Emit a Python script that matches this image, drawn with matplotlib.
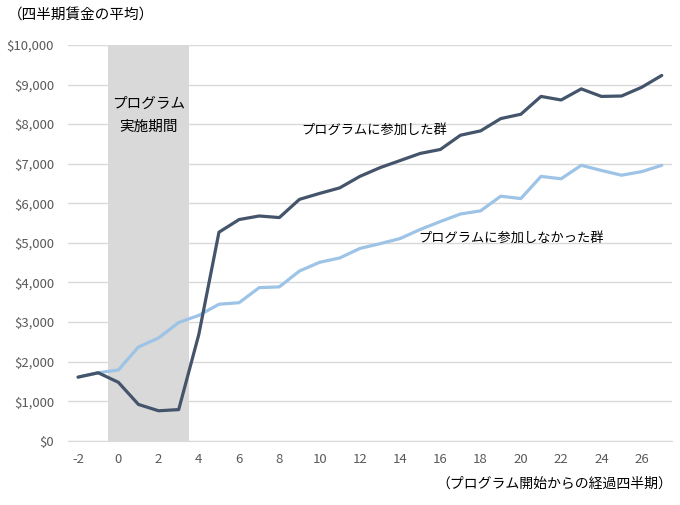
import matplotlib
matplotlib.use("Agg")
import matplotlib.pyplot as plt
from matplotlib.ticker import FuncFormatter

plt.rcParams['font.family'] = ['Noto Sans CJK JP', 'DejaVu Sans']

quarters = list(range(-2, 28))
participants = [1610, 1720, 1480, 920, 760, 790, 2690, 5270, 5590, 5680, 5640, 6100,
                6250, 6390, 6680, 6900, 7080, 7260, 7360, 7720, 7830, 8140, 8250, 8700,
                8610, 8890, 8700, 8710, 8930, 9230]
nonparticipants = [1610, 1720, 1790, 2370, 2600, 2990, 3170, 3450, 3490, 3870, 3890, 4290,
                   4510, 4620, 4860, 4980, 5110, 5340, 5540, 5730, 5810, 6180, 6120, 6680,
                   6620, 6960, 6830, 6710, 6800, 6960]
program_start, program_end = -0.5, 3.5
y_ticks = list(range(0, 10001, 1000))
x_ticks = list(range(-2, 27, 2))

fig = plt.figure(figsize=(6.8, 5.05), dpi=100)
ax = fig.add_axes([0.1, 0.127, 0.888, 0.784])

ax.axvspan(program_start, program_end, color='#D9D9D9', zorder=1, lw=0)
ax.plot(quarters, nonparticipants, color='#9DC3E6', lw=2.3, zorder=3, solid_capstyle='round')
ax.plot(quarters, participants, color='#44546A', lw=2.3, zorder=4, solid_capstyle='round')

ax.set_xlim(-2.5, 27.5)
ax.set_ylim(0, 10000)
ax.set_yticks(y_ticks)
ax.set_xticks(x_ticks)
ax.yaxis.set_major_formatter(FuncFormatter(lambda v, p: f"${int(v):,}"))
ax.xaxis.set_major_formatter(FuncFormatter(lambda v, p: f"{int(v)}"))
ax.grid(axis='y', color='#D9D9D9', lw=1, zorder=0)
ax.set_axisbelow(True)
for s in ['top', 'right', 'left']:
    ax.spines[s].set_visible(False)
ax.spines['bottom'].set_color('#D9D9D9')
ax.tick_params(axis='both', length=0, labelsize=9.5, labelcolor='#595959')
ax.tick_params(axis='x', pad=9)
ax.tick_params(axis='y', pad=10)

ax.text(1.5, 8220, "プログラム\n実施期間", ha='center', va='center', fontsize=10.5,
        linespacing=1.75, color='#000000', zorder=5)
ax.text(12.7, 7850, "プログラムに参加した群", ha='center', va='center', fontsize=9.5, color='#000000')
ax.text(19.5, 5125, "プログラムに参加しなかった群", ha='center', va='center', fontsize=9.5, color='#000000')

fig.text(8/680, 1 - 16/505, "（四半期賃金の平均）", ha='left', va='center', fontsize=10.5, color='#000000')
fig.text(672/680, 1 - 484/505, "（プログラム開始からの経過四半期）", ha='right', va='center', fontsize=10, color='#000000')

fig.savefig("out.png", dpi=100)
